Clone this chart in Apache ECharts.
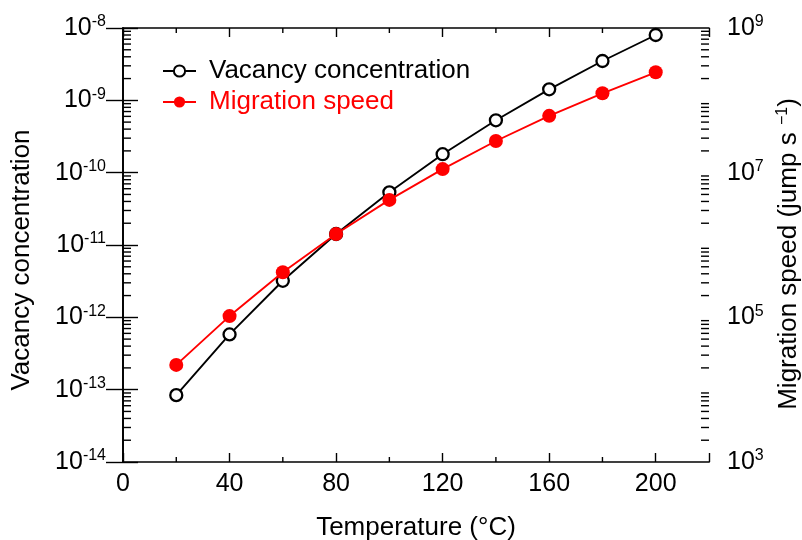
<!DOCTYPE html>
<html>
<head>
<meta charset="utf-8">
<script src="https://cdn.jsdelivr.net/npm/echarts@6/dist/echarts.min.js"></script>
<style>
html,body{margin:0;padding:0;background:#fff;}
#chart{width:802px;height:540px;}
</style>
</head>
<body>
<div id="chart"></div>
<script>
// ---- data ----
var temperatures = [20, 40, 60, 80, 100, 120, 140, 160, 180, 200];
var vacancyConcentration = [8.4e-14, 5.8e-13, 3.2e-12, 1.42e-11, 5.35e-11, 1.8e-10, 5.3e-10, 1.42e-9, 3.5e-9, 8.0e-9];
var migrationSpeed = [2.2e4, 1.04e5, 4.2e5, 1.42e6, 4.2e6, 1.12e7, 2.74e7, 6.1e7, 1.25e8, 2.44e8];
var xTickLabels = [0, 40, 80, 120, 160, 200];
var xMinorTicks = [20, 60, 100, 140, 180];
var leftLabelExponents = [-14, -13, -12, -11, -10, -9, -8];
var rightLabelExponents = [3, 5, 7, 9];
var minorMantissas = [2, 3, 4, 5, 6, 7, 8, 9];
var X_MIN = 0, X_MAX = 220;
var LEFT_MIN = 1e-14, LEFT_MAX = 1e-8;
var RIGHT_MIN = 1e3, RIGHT_MAX = 1e9;

var FONT = "'Liberation Sans', Arial, sans-serif";

function decadeMinors(lo, hi) {
  var out = [];
  for (var e = Math.round(Math.log10(lo)); e < Math.round(Math.log10(hi)); e++) {
    minorMantissas.forEach(function (m) { out.push(m * Math.pow(10, e)); });
  }
  return out;
}

function powLabel(allowed) {
  return function (v) {
    var e = Math.round(Math.log10(v));
    if (allowed.indexOf(e) < 0) return '';
    return '{b|10}{s|' + e + '}';
  };
}
var powRich = {
  b: { fontSize: 25, fontFamily: FONT, color: '#000', lineHeight: 28 },
  s: { fontSize: 16, fontFamily: FONT, color: '#000', verticalAlign: 'top', lineHeight: 15 }
};

function tickSeries(yIdx, data, dx, dy) {
  return {
    type: 'custom',
    xAxisIndex: 0,
    yAxisIndex: yIdx,
    silent: true,
    clip: false,
    z: 1,
    data: data,
    encode: { x: 0, y: 1 },
    renderItem: function (params, api) {
      var p = api.coord([api.value(0), api.value(1)]);
      return {
        type: 'line',
        shape: { x1: p[0], y1: p[1], x2: p[0] + dx, y2: p[1] + dy },
        style: { stroke: '#000', lineWidth: 1.4 }
      };
    }
  };
}

var leftMinor = decadeMinors(LEFT_MIN, LEFT_MAX).map(function (v) { return [X_MIN, v]; });
var rightMinor = decadeMinors(RIGHT_MIN, RIGHT_MAX).map(function (v) { return [X_MAX, v]; });
var bottomMinor = xMinorTicks.map(function (t) { return [t, LEFT_MIN]; });
var topMinor = xMinorTicks.map(function (t) { return [t, LEFT_MAX]; });

var axisLineStyle = { color: '#000', width: 1.7 };

var chart = echarts.init(document.getElementById('chart'), null, { renderer: 'canvas' });
chart.setOption({
  animation: false,
  backgroundColor: '#fff',
  grid: { left: 123, right: 93, top: 28, bottom: 78, containLabel: false, outerBoundsMode: 'none' },
  legend: {
    orient: 'vertical',
    left: 157,
    top: 53,
    itemWidth: 33,
    itemHeight: 14,
    itemGap: 5,
    textStyle: { fontSize: 26, fontFamily: FONT, padding: [0, 0, 0, 8] },
    data: [
      { name: 'Vacancy concentration', textStyle: { color: '#000' } },
      { name: 'Migration speed', textStyle: { color: '#ff0000' } }
    ]
  },
  xAxis: [{
    type: 'value',
    position: 'bottom',
    min: X_MIN, max: X_MAX, interval: 40,
    name: 'Temperature (°C)',
    nameLocation: 'middle',
    nameGap: 53,
    nameTextStyle: { fontSize: 26, fontFamily: FONT, color: '#000' },
    axisLine: { show: true, lineStyle: axisLineStyle },
    axisTick: { show: true, inside: true, length: 9, lineStyle: { color: '#000', width: 1.4 } },
    axisLabel: {
      margin: 10, fontSize: 25, fontFamily: FONT, color: '#000',
      formatter: function (v) { return xTickLabels.indexOf(v) >= 0 ? String(v) : ''; }
    },
    splitLine: { show: false }
  }, {
    type: 'value',
    position: 'top',
    min: X_MIN, max: X_MAX, interval: 40,
    axisLine: { show: true, lineStyle: axisLineStyle },
    axisTick: { show: true, inside: true, length: 9, lineStyle: { color: '#000', width: 1.4 } },
    axisLabel: { show: false },
    splitLine: { show: false }
  }],
  yAxis: [{
    type: 'log',
    logBase: 10,
    position: 'left',
    min: LEFT_MIN, max: LEFT_MAX, splitNumber: 6,
    name: 'Vacancy concentration',
    nameLocation: 'middle',
    nameRotate: 90,
    nameGap: 88,
    nameTextStyle: { fontSize: 26, fontFamily: FONT, color: '#000', padding: [0, 30, 0, 0] },
    axisLine: { show: true, lineStyle: axisLineStyle },
    axisTick: { show: true, inside: true, length: 15, lineStyle: { color: '#000', width: 1.4 } },
    axisLabel: { margin: 17, formatter: powLabel(leftLabelExponents), rich: powRich },
    splitLine: { show: false }
  }, {
    type: 'log',
    logBase: 10,
    position: 'right',
    min: RIGHT_MIN, max: RIGHT_MAX, splitNumber: 6,
    name: '{n|Migration speed (jump s }{s|\u22121}{n|)}',
    nameLocation: 'middle',
    nameRotate: 90,
    nameGap: 66,
    nameTextStyle: {
      fontSize: 26, fontFamily: FONT, color: '#000', padding: [0, 18, 0, 0],
      rich: {
        n: { fontSize: 26, fontFamily: FONT, color: '#000', lineHeight: 28 },
        s: { fontSize: 16, fontFamily: FONT, color: '#000', verticalAlign: 'top', lineHeight: 15 }
      }
    },
    axisLine: { show: true, lineStyle: axisLineStyle },
    axisTick: { show: true, inside: true, length: 17, lineStyle: { color: '#000', width: 1.4 } },
    axisLabel: { margin: 18, formatter: powLabel(rightLabelExponents), rich: powRich },
    splitLine: { show: false }
  }],
  series: [
    tickSeries(0, leftMinor, 8, 0),
    tickSeries(1, rightMinor, -8, 0),
    tickSeries(0, bottomMinor, 0, -5),
    tickSeries(0, topMinor, 0, 5),
    {
      name: 'Vacancy concentration',
      type: 'line',
      xAxisIndex: 0,
      yAxisIndex: 0,
      z: 3,
      data: temperatures.map(function (t, i) { return [t, vacancyConcentration[i]]; }),
      symbol: 'circle',
      symbolSize: 12,
      lineStyle: { color: '#000', width: 1.9 },
      itemStyle: { color: '#fff', borderColor: '#000', borderWidth: 2.3 }
    },
    {
      name: 'Migration speed',
      type: 'line',
      xAxisIndex: 0,
      yAxisIndex: 1,
      z: 4,
      data: temperatures.map(function (t, i) { return [t, migrationSpeed[i]]; }),
      symbol: 'circle',
      symbolSize: 14,
      lineStyle: { color: '#ff0000', width: 1.9 },
      itemStyle: { color: '#ff0000' }
    }
  ]
});
</script>
</body>
</html>
